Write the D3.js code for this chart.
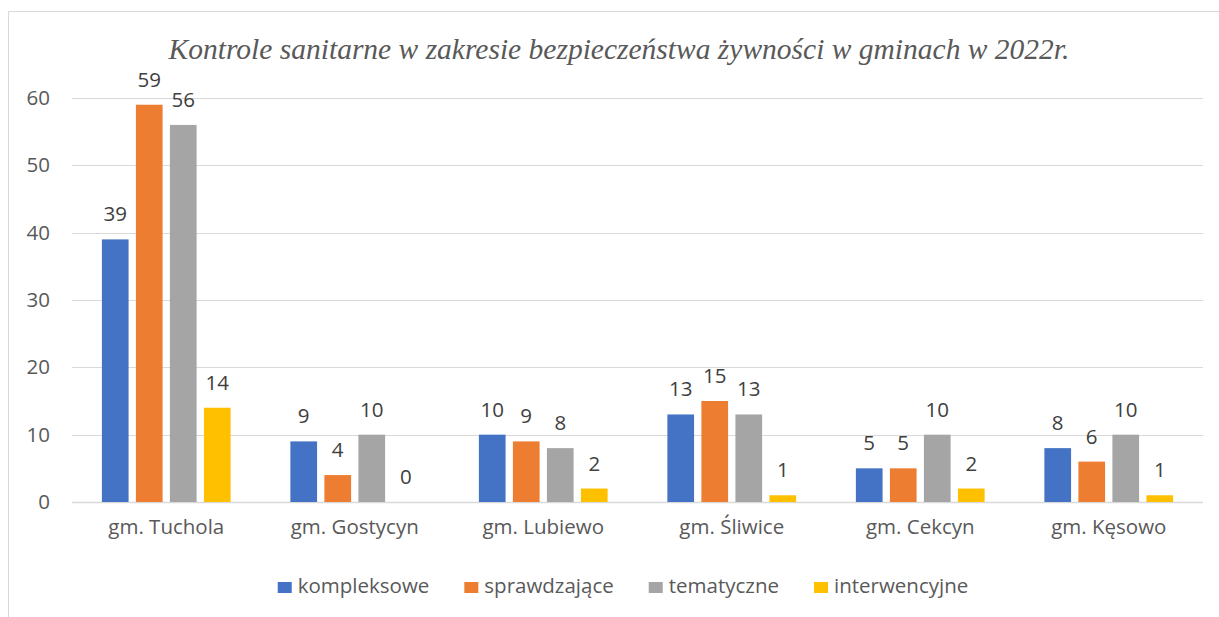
<!doctype html>
<meta charset="utf-8">
<title>Kontrole sanitarne</title>
<script src="https://cdn.jsdelivr.net/npm/d3@7"></script>
<style>
  body { margin: 0; background: #fff; }
  text { fill: #595959; }
  text.val { fill: #404040; }
</style>
<body>
<div id="chart"></div>
<script>

    var categories = ['gm. Tuchola', 'gm. Gostycyn', 'gm. Lubiewo', 'gm. Śliwice', 'gm. Cekcyn', 'gm. Kęsowo'];
    var seriesNames = ['kompleksowe', 'sprawdzające', 'tematyczne', 'interwencyjne'];
    var kompleksowe = [39, 9, 10, 13, 5, 8];
    var sprawdzajace = [59, 4, 9, 15, 5, 6];
    var tematyczne = [56, 10, 8, 13, 10, 10];
    var interwencyjne = [14, 0, 2, 1, 2, 1];
    var yTicks = [0, 10, 20, 30, 40, 50, 60];
    var colors = ['#4472C4', '#ED7D31', '#A5A5A5', '#FFC000'];

    var series = [kompleksowe, sprawdzajace, tematyczne, interwencyjne];

    var width = 1219, height = 617
        , font = '"Open Sans", sans-serif'
        , fontSize = '20.5px'
        , plotLeft = 72, plotRight = 1203, plotTop = 98, plotBottom = 502;

    var svg = d3.select('#chart').append('svg')
            .attr('width', width)
            .attr('height', height);

    // frame of the chart area
    svg.append('path')
            .attr('d', 'M8.5,' + height + 'V11.5H' + width)
            .attr('fill', 'none')
            .attr('stroke', '#d9d9d9')
            .attr('stroke-width', 1);

    svg.append('text')
            .attr('x', 619)
            .attr('y', 59)
            .attr('text-anchor', 'middle')
            .style('font-family', '"Liberation Serif", "Times New Roman", serif')
            .style('font-style', 'italic')
            .style('font-size', '29.5px')
            .text('Kontrole sanitarne w zakresie bezpieczeństwa żywności w gminach w 2022r.');

    var x0 = d3.scaleBand().domain(categories).range([plotLeft, plotRight]).paddingInner(0.317).paddingOuter(0.1585);
    var x1 = d3.scaleBand().domain(d3.range(series.length)).range([0, x0.bandwidth()]).paddingInner(0.215);
    var y = d3.scaleLinear().domain([0, 60]).range([plotBottom, plotTop]);

    // gridlines
    svg.append('g').selectAll('line')
            .data(yTicks)
            .enter().append('line')
            .attr('x1', plotLeft).attr('x2', plotRight)
            .attr('y1', function(d) { return Math.round(y(d)) + 0.5 })
            .attr('y2', function(d) { return Math.round(y(d)) + 0.5 })
            .attr('stroke', '#d9d9d9')
            .attr('stroke-width', function(d) { return d === 0 ? 1.5 : 1 });

    var yAxis = svg.append('g')
            .attr('transform', 'translate(' + (plotLeft - 22) + ',0)')
            .call(d3.axisLeft(y).tickValues(yTicks).tickSize(0).tickPadding(0));
    yAxis.select('.domain').remove();
    yAxis.selectAll('text')
            .style('font-family', font)
            .style('font-size', fontSize)
            .attr('fill', '#595959');

    var xAxis = svg.append('g')
            .attr('transform', 'translate(0,' + plotBottom + ')')
            .call(d3.axisBottom(x0).tickSize(0).tickPadding(17));
    xAxis.select('.domain').remove();
    xAxis.selectAll('text')
            .style('font-family', font)
            .style('font-size', fontSize)
            .attr('fill', '#595959');

    var groups = svg.append('g').selectAll('g.cat')
            .data(categories)
            .enter().append('g')
            .attr('class', 'cat')
            .attr('transform', function(d) { return 'translate(' + x0(d) + ',0)' });

    groups.selectAll('rect')
            .data(function(d, i) { return series.map(function(s, j) { return { s: j, v: s[i] } }) })
            .enter().append('rect')
            .attr('x', function(d) { return x1(d.s) })
            .attr('y', function(d) { return y(d.v) })
            .attr('width', x1.bandwidth())
            .attr('height', function(d) { return plotBottom - y(d.v) })
            .attr('fill', function(d) { return colors[d.s] });

    groups.selectAll('text.val')
            .data(function(d, i) { return series.map(function(s, j) { return { s: j, v: s[i] } }) })
            .enter().append('text')
            .attr('class', 'val')
            .attr('x', function(d) { return x1(d.s) + x1.bandwidth() / 2 })
            .attr('y', function(d) { return y(d.v) - 18 })
            .attr('text-anchor', 'middle')
            .style('font-family', font)
            .style('font-size', fontSize)
            .text(function(d) { return d.v });

    // legend, laid out from the measured text widths and centred
    var legend = svg.append('g');
    var items = legend.selectAll('g.leg')
            .data(seriesNames)
            .enter().append('g');
    items.append('rect')
            .attr('y', 582)
            .attr('width', 14).attr('height', 11)
            .attr('fill', function(d, i) { return colors[i] });
    items.append('text')
            .attr('x', 20).attr('y', 593)
            .style('font-family', font)
            .style('font-size', fontSize)
            .text(function(d) { return d });
    var pos = 0;
    items.each(function() {
        d3.select(this).attr('transform', 'translate(' + pos + ',0)');
        pos += 20 + d3.select(this).select('text').node().getComputedTextLength() + 35;
    });
    legend.attr('transform', 'translate(' + (623 - (pos - 35) / 2) + ',0)');

</script>
</body>
